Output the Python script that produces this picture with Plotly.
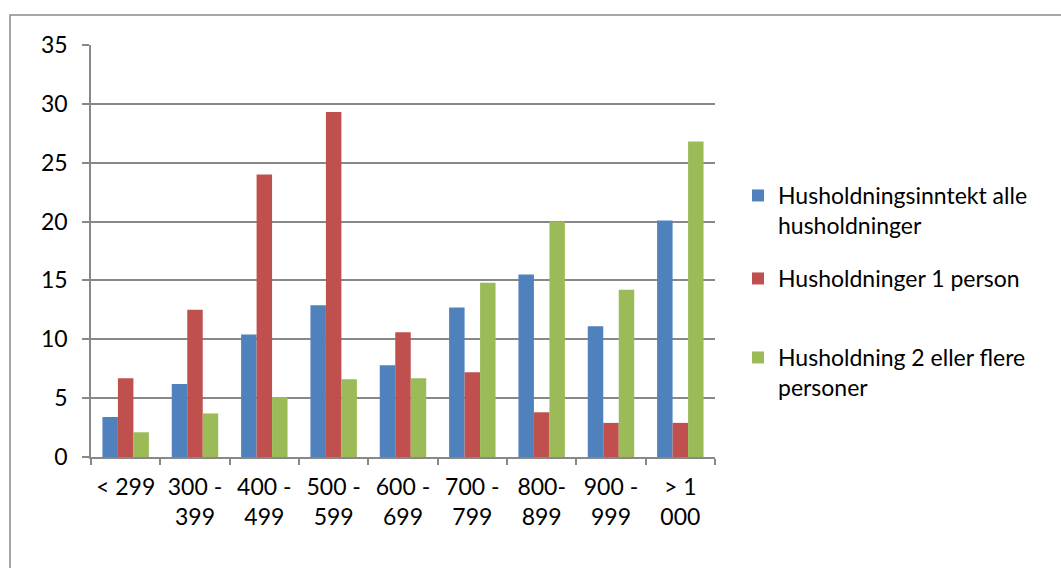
import plotly.graph_objects as go

# Income brackets (in thousand NOK) and their two-line tick labels
categories = ["< 299", "300 - 399", "400 - 499", "500 - 599", "600 - 699",
              "700 - 799", "800-899", "900 - 999", "> 1 000"]
tick_labels = ["< 299", "300 -<br>399", "400 -<br>499", "500 -<br>599", "600 -<br>699",
               "700 -<br>799", "800-<br>899", "900 -<br>999", "> 1<br>000"]

# Share of households (%) per bracket
alle = [3.4, 6.2, 10.4, 12.9, 7.8, 12.7, 15.5, 11.1, 20.1]
en_person = [6.7, 12.5, 24.0, 29.3, 10.6, 7.2, 3.8, 2.9, 2.9]
to_eller_flere = [2.1, 3.7, 5.1, 6.6, 6.7, 14.8, 20.0, 14.2, 26.8]

series_names = ["Husholdningsinntekt alle<br>husholdninger",
                "Husholdninger 1 person",
                "Husholdning 2 eller flere<br>personer"]
colors = ["#4F81BD", "#C0504D", "#9BBB59"]
legend_ids = ["legend", "legend2", "legend3"]

W, H = 1061, 568
L, R, T, B = 91, 715, 45, 457  # plot area edges in pixels
FONT = "Lato"
FS = 23
GRID = "#888888"

fig = go.Figure()
for name, vals, col, lg in zip(series_names, [alle, en_person, to_eller_flere], colors, legend_ids):
    fig.add_trace(go.Bar(
        x=categories, y=vals, name=name, legend=lg,
        marker=dict(color=col, line=dict(width=0)),
    ))


def px_to_paper(xp, yp):
    return (xp - L) / (R - L), (B - yp) / (B - T)


legend_pos = [(738, 174), (738, 257), (738, 336)]
legend_cfg = {}
for lg, (xp, yp) in zip(legend_ids, legend_pos):
    lx, ly = px_to_paper(xp, yp)
    legend_cfg[lg] = dict(
        x=lx, y=ly, xanchor="left", yanchor="top",
        font=dict(family=FONT, size=FS, color="#000000"),
        bgcolor="rgba(0,0,0,0)", borderwidth=0, valign="top",
        itemclick=False, itemdoubleclick=False,
    )

# Outer chart border (runs past the right and bottom edges of the page)
bx0, by0 = px_to_paper(10, 15)
bx1, by1 = px_to_paper(1070, 580)

fig.update_layout(
    width=W, height=H,
    margin=dict(l=L, r=W - R, t=T, b=H - B, autoexpand=False),
    paper_bgcolor="white", plot_bgcolor="white",
    barmode="group", bargap=0.33, bargroupgap=0.0,
    font=dict(family=FONT, size=FS, color="#000000"),
    showlegend=True,
    **legend_cfg,
    xaxis=dict(
        type="category", tickmode="array", tickvals=categories, ticktext=tick_labels,
        tickson="boundaries", ticks="outside", ticklen=6, tickwidth=1.5, tickcolor=GRID,
        showline=True, linecolor=GRID, linewidth=1.5, showgrid=False,
        tickfont=dict(family=FONT, size=FS, color="#000000"), ticklabelstandoff=9,
    ),
    yaxis=dict(
        range=[0, 35], dtick=5, tick0=0,
        ticks="outside", ticklen=7, tickwidth=1.5, tickcolor=GRID,
        showline=True, linecolor=GRID, linewidth=1.5,
        showgrid=True, gridcolor=GRID, gridwidth=1.5, zeroline=False,
        tickfont=dict(family=FONT, size=FS, color="#000000"), ticklabelstandoff=10,
    ),
    shapes=[dict(type="rect", xref="paper", yref="paper",
                 x0=bx0, y0=by1, x1=bx1, y1=by0,
                 line=dict(color="#8a8a8a", width=1.5), layer="below")],
)

fig.write_html("out.html")
